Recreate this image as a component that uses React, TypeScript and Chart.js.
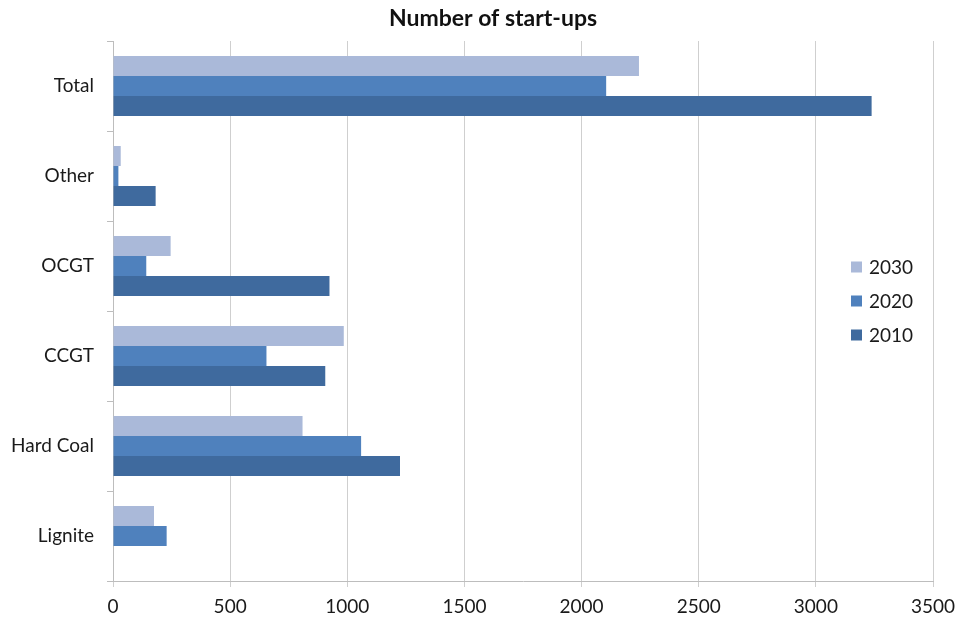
import React, { useEffect, useRef } from "react";
import { Chart, registerables } from "chart.js";

Chart.register(...registerables);

const categories = ["Total", "Other", "OCGT", "CCGT", "Hard Coal", "Lignite"];
const seriesLabels = ["2030", "2020", "2010"];
const values2030 = [2245, 33, 246, 985, 809, 175];
const values2020 = [2105, 23, 142, 655, 1059, 229];
const values2010 = [3238, 182, 924, 906, 1225, 0];
const xTicks = [0, 500, 1000, 1500, 2000, 2500, 3000, 3500];
const titleText = "Number of start-ups";

const colors = ["#aab9d9", "#4f81bd", "#3f6a9e"];
const FONT = "Lato, 'Open Sans', sans-serif";

const overlayPlugin = {
  id: "overlay",
  afterDraw(chart: any) {
    const ctx = chart.ctx;
    ctx.save();
    ctx.fillStyle = "#111";
    ctx.font = `bold 23px ${FONT}`;
    ctx.textAlign = "center";
    ctx.textBaseline = "middle";
    ctx.fillText(titleText, 493, 19);
    ctx.font = `19px ${FONT}`;
    ctx.textAlign = "left";
    const ys = [267, 301, 335];
    chart.data.datasets.forEach((ds: any, i: number) => {
      ctx.fillStyle = ds.backgroundColor;
      ctx.fillRect(851, ys[i] - 5.5, 11, 11);
      ctx.fillStyle = "#1a1a1a";
      ctx.fillText(ds.label, 869, ys[i] + 1);
    });
    ctx.restore();
  },
};

export default function App() {
  const ref = useRef<HTMLCanvasElement | null>(null);
  useEffect(() => {
    if (!ref.current) return;
    const datasets = [values2030, values2020, values2010].map((d, i) => ({
      label: seriesLabels[i],
      data: d,
      backgroundColor: colors[i],
      borderWidth: 0,
      categoryPercentage: 0.667,
      barPercentage: 1,
    }));
    const chart = new Chart(ref.current, {
      type: "bar",
      data: { labels: categories, datasets },
      options: {
        indexAxis: "y",
        animation: false,
        responsive: false,
        maintainAspectRatio: false,
        layout: { padding: { top: 41, right: 24, bottom: 0, left: 0 } },
        plugins: {
          legend: { display: false },
          title: { display: false },
          tooltip: { enabled: false },
        },
        scales: {
          x: {
            type: "linear",
            min: 0,
            max: 3500,
            afterBuildTicks: (scale: any) => {
              scale.ticks = xTicks.map((v) => ({ value: v }));
            },
            afterFit: (scale: any) => {
              scale.height = 40;
              scale.paddingRight = 0;
              scale.paddingLeft = 0;
            },
            grid: {
              color: "#cfcfcf",
              lineWidth: 1,
              drawTicks: true,
              tickLength: 6,
            },
            border: { display: true, color: "#bdbdbd" },
            ticks: {
              color: "#1a1a1a",
              font: { family: FONT, size: 19 },
              padding: 8,
              maxRotation: 0,
              callback: (v: any) => String(v),
            },
          },
          y: {
            type: "category",
            offset: true,
            afterFit: (scale: any) => {
              scale.width = 113;
            },
            grid: {
              offset: true,
              drawOnChartArea: false,
              drawTicks: true,
              tickLength: 6,
              color: "#bdbdbd",
            },
            border: { display: true, color: "#bdbdbd" },
            ticks: {
              color: "#1a1a1a",
              font: { family: FONT, size: 19 },
              padding: 13,
            },
          },
        },
      },
      plugins: [overlayPlugin],
    });
    return () => chart.destroy();
  }, []);
  return (
    <div style={{ position: "absolute", left: 0, top: 0, width: 957, height: 621, background: "#fff" }}>
      <canvas ref={ref} width={957} height={621} style={{ width: 957, height: 621 }} />
    </div>
  );
}
